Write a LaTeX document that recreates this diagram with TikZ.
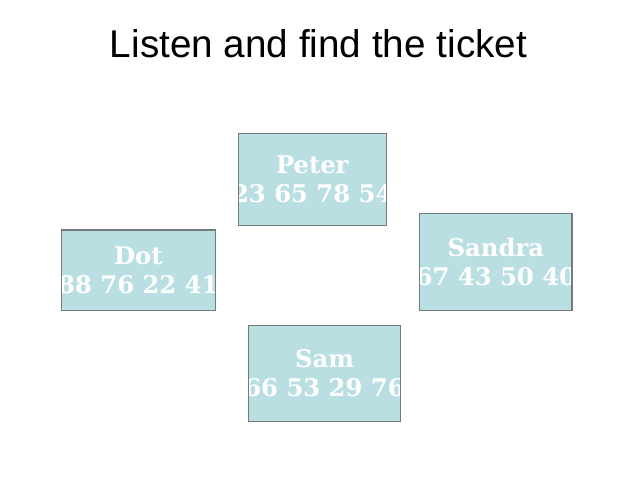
\documentclass[tikz,border=0pt]{standalone}
\usepackage{fontspec}
\setmainfont{Liberation Sans}
\newfontfamily\ticketfont{DejaVu Serif}
\usepackage{tikz}
\definecolor{cTicket}{HTML}{B9DFE3}
\definecolor{cEdge}{HTML}{737B7B}

\begin{document}
\begin{tikzpicture}[
    x=0.75pt, y=-0.75pt,
    ticket/.style args={#1/#2}{fill=cTicket, inner sep=0pt,
                  minimum width=#1, minimum height=#2},
    edge/.style={draw=cEdge, line width=0.8pt},
    who/.style={text=white, inner sep=0pt, align=center,
                font=\ticketfont\bfseries\fontsize{18.2}{21.75}\selectfont},
    heading/.style={anchor=base, inner sep=0pt,
                    font=\fontsize{29}{34}\selectfont},
  ]
  \fill[white] (0,0) rectangle (640,480);
  \useasboundingbox (0,0) rectangle (640,480);

  % ── TITLE ──
  \node[heading] (title) at (318.5,57) {Listen and find the ticket};

  % ── PETER ──
  \node[ticket=110.6pt/68.6pt] (peter) at (312.25,179.25) {};
  \node[who] (peterTxt) at (peter) {Peter\\23 65 78 54};
  \draw[edge] (peter.south west) rectangle (peter.north east);

  % ── DOT ──
  \node[ticket=115pt/59.8pt] (dot) at (138.35,270.15) {};
  \node[who] (dotTxt) at (dot) {Dot\\88 76 22 41};
  \draw[edge] (dot.south west) rectangle (dot.north east);

  % ── SANDRA ──
  \node[ticket=113.8pt/72.5pt] (sandra) at (495.85,261.65) {};
  \node[who] (sandraTxt) at (sandra) {Sandra\\67 43 50 40};
  \draw[edge] (sandra.south west) rectangle (sandra.north east);

  % ── SAM ──
  \node[ticket=113.3pt/71.3pt] (sam) at (324.5,373.5) {};
  \node[who] (samTxt) at (sam) {Sam\\66 53 29 76};
  \draw[edge] (sam.south west) rectangle (sam.north east);
\end{tikzpicture}
\end{document}
